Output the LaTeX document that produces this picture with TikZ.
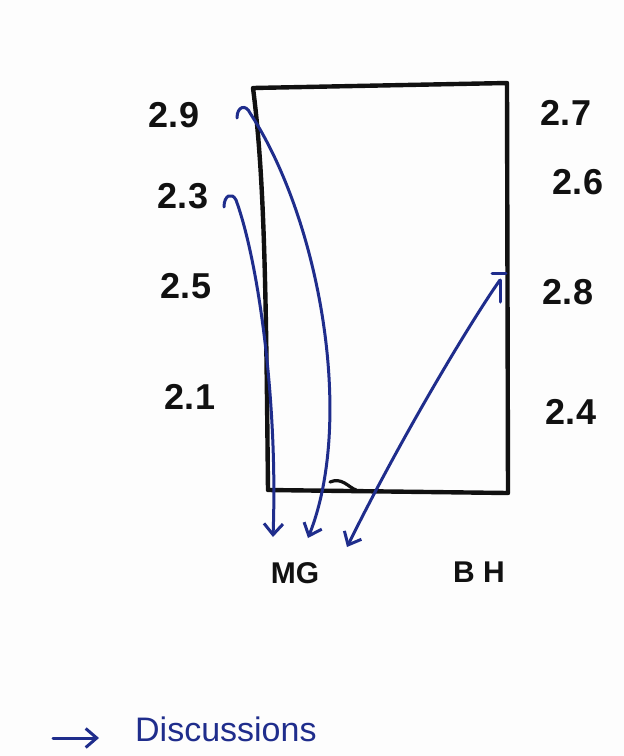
\documentclass[tikz,border=0pt]{standalone}
\usepackage{fontspec}
\setmainfont{Liberation Sans}
\usetikzlibrary{arrows.meta}
\definecolor{inkblue}{HTML}{1F2D8C}
\definecolor{inkblack}{HTML}{111111}
\definecolor{paper}{HTML}{FDFDFD}
\tikzset{
  frame/.style={draw=inkblack, line width=4.4pt, line join=round, line cap=round},
  num/.style={font=\fontsize{36}{38}\selectfont\bfseries, text=inkblack, inner sep=0pt},
  who/.style={font=\fontsize{30}{32}\selectfont\bfseries, text=inkblack, inner sep=0pt},
  link/.style={-{Straight Barb[length=11pt,width=19pt,line width=3pt]}, draw=inkblue, line width=3pt, line cap=round},
  tick/.style={draw=inkblue, line width=3pt, line cap=round},
  note/.style={font=\fontsize{34}{36}\selectfont, text=inkblue, inner sep=0pt, anchor=west},
}
\begin{document}
\begin{tikzpicture}[x=1pt,y=-1pt]
  \fill[paper] (0,0) rectangle (624,756);
  \useasboundingbox (0,0) rectangle (624,756);
  % the box
  \draw[frame] (253,88) -- (507,83) -- (508,493) -- (268,490)
    .. controls (266,300) and (265,180) .. cycle;
  \draw[frame, line width=3.2pt] (330,482) .. controls (342,477) and (348,487) .. (356,490);
  % left column
  \node[num] (n29) at (174,115) {2.9};
  \node[num] (n23) at (183,196) {2.3};
  \node[num] (n25) at (186,286) {2.5};
  \node[num] (n21) at (190,397) {2.1};
  % right column
  \node[num] (n27) at (566,113) {2.7};
  \node[num] (n26) at (578,182) {2.6};
  \node[num] (n28) at (568,292) {2.8};
  \node[num] (n24) at (571,412) {2.4};
  % below the box
  \node[who] (mg) at (295,573) {MG};
  \node[who] (bh) at (479,572) {B H};
  % arrow ends
  \coordinate (s29) at (237,118);
  \coordinate (e29) at (308,538);
  \coordinate (s23) at (224,207);
  \coordinate (e23) at (273,537);
  \coordinate (s28) at (500,280);
  \coordinate (e28) at (347,547);
  \coordinate (k28a) at (492,273);
  \coordinate (k28b) at (506,273);
  \coordinate (k28c) at (500,302);
  \draw[link] (s29) .. controls (237,106) and (246,104) .. (250,113)
    .. controls (320,220) and (355,420) .. (e29);
  \draw[link] (s23) .. controls (224,195) and (232,192) .. (236,200)
    .. controls (258,260) and (278,400) .. (e23);
  \draw[tick] (k28a) -- (k28b);
  \draw[tick] (s28) -- (k28c);
  \draw[link] (s28) .. controls (475,315) and (405,430) .. (e28);
  % footnote
  \coordinate (d0) at (53,738);
  \coordinate (d1) at (99,738);
  \node[note] (disc) at (135,729) {Discussions};
  \draw[link] (d0) -- (d1);
\end{tikzpicture}
\end{document}
